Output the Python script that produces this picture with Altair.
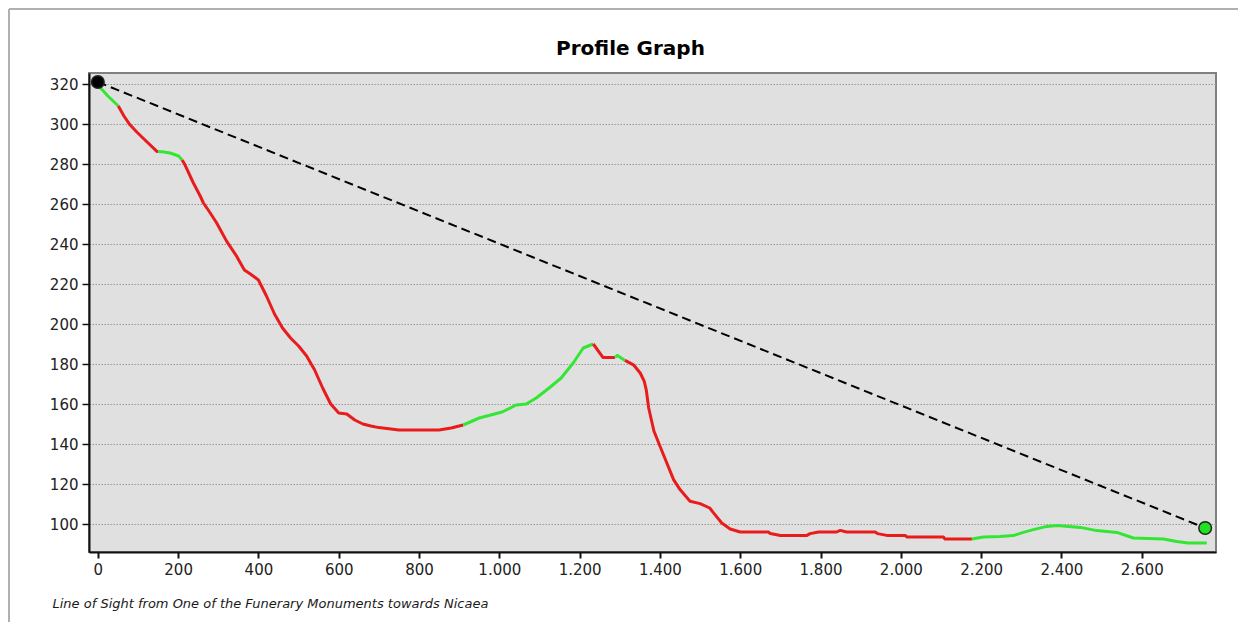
import altair as alt
import pandas as pd

# Profile: distance along line of sight (m) and terrain elevation (m)
dist = [0, 25, 51, 65, 80, 97, 120, 147, 150, 165, 180, 201, 210, 217, 238, 255, 263, 280,
        296, 321, 346, 365, 380, 400, 420, 440, 460, 480, 500, 520, 540, 560, 580, 600, 620,
        640, 660, 680, 700, 750, 800, 850, 880, 910, 950, 1007, 1042, 1067, 1092, 1124, 1154,
        1184, 1209, 1234, 1258, 1288, 1294, 1313, 1334, 1351, 1361, 1366, 1372, 1385, 1405,
        1434, 1450, 1475, 1500, 1524, 1537, 1554, 1575, 1600, 1670, 1675, 1700, 1766, 1774,
        1795, 1840, 1849, 1865, 1936, 1942, 1965, 2011, 2015, 2106, 2110, 2177, 2206, 2247,
        2280, 2305, 2330, 2364, 2389, 2447, 2488, 2538, 2579, 2654, 2687, 2716, 2762]
elev = [319.5, 314, 309, 304, 299.6, 296, 291.5, 286.3, 286.2, 286, 285.5, 284, 282, 279.6,
        270.5, 264, 260.5, 255.5, 250.5, 241.3, 233.8, 227, 225, 222, 214, 205, 198, 193, 189,
        184, 177, 168, 160, 155.5, 155, 152, 150, 149, 148.2, 147, 147, 147, 148, 149.5, 153,
        156, 159.5, 160, 163, 168, 173, 180.5, 188, 190, 183.3, 183.3, 184.3, 181.8, 179.6,
        175.5, 171.3, 167, 158, 146.5, 136.5, 122.2, 117.2, 111.4, 110.2, 108, 104.7, 100.5,
        97.5, 96, 96, 95.2, 94.3, 94.3, 95.2, 96, 96, 96.8, 96, 96, 95.2, 94.3, 94.3, 93.5,
        93.5, 92.5, 92.5, 93.5, 93.7, 94.2, 95.8, 97.2, 98.8, 99.3, 98.3, 96.7, 95.8, 93, 92.5,
        91.3, 90.5, 90.5]
# Stretches of the profile that are visible from the observer
visible_from = [0, 150, 910, 1288, 2177]
visible_to = [51, 210, 1234, 1313, 2762]

# Observer and target of the line of sight
sight_dist = [0, 2758]
sight_elev = [321, 98]
sight_kind = ["Observer", "Target"]

x_ticks = [0, 200, 400, 600, 800, 1000, 1200, 1400, 1600, 1800, 2000, 2200, 2400, 2600]
y_ticks = [100, 120, 140, 160, 180, 200, 220, 240, 260, 280, 300, 320]

title_text = ["Profile Graph"]

GREEN = "#33e633"
RED = "#e81c1c"


def is_visible(m):
    return any(a <= m <= b for a, b in zip(visible_from, visible_to))


rows = []
seg = 0
prev = None
for i in range(len(dist) - 1):
    v = is_visible((dist[i] + dist[i + 1]) / 2)
    lab = "Visible" if v else "Not visible"
    if prev is None or v != prev:
        seg += 1
        rows.append({"d": dist[i], "e": elev[i], "seg": seg, "vis": lab})
    rows.append({"d": dist[i + 1], "e": elev[i + 1], "seg": seg, "vis": lab})
    prev = v
profile = pd.DataFrame(rows)
sight = pd.DataFrame({"d": sight_dist, "e": sight_elev, "kind": sight_kind})
titles = pd.DataFrame({"t": title_text})

xscale = alt.Scale(domain=[-22, 2785], nice=False, zero=False)
yscale = alt.Scale(domain=[86, 325.5], nice=False, zero=False)

FONT = "DejaVu Sans"

xaxis = alt.Axis(
    values=x_ticks,
    labelExpr="replace(format(datum.value, ','), ',', '.')",
    grid=False, labelFont=FONT, labelFontSize=15, labelColor="#222",
    tickSize=6, tickColor="#111", tickWidth=2, labelPadding=4,
    domainColor="#111", domainWidth=2,
    title="Line of Sight from One of the Funerary Monuments towards Nicaea",
    titleFont=FONT, titleFontSize=13, titleFontStyle="italic", titleFontWeight="normal",
    titleColor="#1a1a1a", titleAlign="left", titleBaseline="alphabetic",
    titleX=-37, titleY=55, titleAnchor="start",
)
yaxis = alt.Axis(
    values=y_ticks, grid=True, gridColor="#999999", gridDash=[1.5, 1.5], gridWidth=1,
    labelFont=FONT, labelFontSize=15, labelColor="#222",
    tickSize=7, tickColor="#111", tickWidth=1.5, labelPadding=4,
    domainColor="#111", domainWidth=2, title=None,
)

lines = alt.Chart(profile).mark_line(strokeWidth=3, strokeJoin="round").encode(
    x=alt.X("d:Q", scale=xscale, axis=xaxis),
    y=alt.Y("e:Q", scale=yscale, axis=yaxis),
    color=alt.Color("vis:N", scale=alt.Scale(domain=["Visible", "Not visible"],
                                             range=[GREEN, RED]), legend=None),
    detail="seg:N",
    order="d:Q",
)

sightline = alt.Chart(sight).mark_line(color="black", strokeWidth=2, strokeDash=[9, 5]).encode(
    x=alt.X("d:Q", scale=xscale),
    y=alt.Y("e:Q", scale=yscale),
)

points = alt.Chart(sight).mark_point(filled=True, size=160, opacity=1,
                                     stroke="#222", strokeWidth=1.5, shape="circle").encode(
    x=alt.X("d:Q", scale=xscale),
    y=alt.Y("e:Q", scale=yscale),
    fill=alt.Fill("kind:N", scale=alt.Scale(domain=["Observer", "Target"],
                                            range=["#000000", "#22e022"]), legend=None),
)

title_mark = alt.Chart(titles).mark_text(
    font=FONT, fontSize=20, fontWeight="bold", color="black",
    align="center", baseline="alphabetic",
).encode(text="t:N", x=alt.value(541.5), y=alt.value(-18))

border_left = alt.Chart(titles).mark_rule(color="#b0b0b0", strokeWidth=2).encode(
    x=alt.value(-80), y=alt.value(-64), y2=alt.value(560))
border_top = alt.Chart(titles).mark_rule(color="#b0b0b0", strokeWidth=2).encode(
    x=alt.value(-80), x2=alt.value(1150), y=alt.value(-64))

chart = alt.layer(lines, sightline, points, title_mark, border_left, border_top).properties(
    width=1127, height=479,
    padding={"left": 81, "top": 65, "right": 22, "bottom": 70},
    autosize="none",
    background="white",
).configure_view(fill="#e0e0e0", stroke="#808080", strokeWidth=2)

chart.save("out.html", embed_options={"renderer": "svg", "actions": False})
